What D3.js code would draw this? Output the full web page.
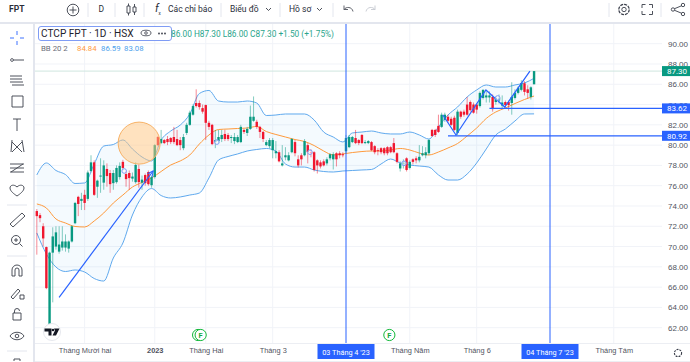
<!DOCTYPE html>
<html>
<head>
<meta charset="utf-8">
<script src="https://cdn.jsdelivr.net/npm/d3@7"></script>
<style>
  html, body { margin: 0; padding: 0; background: #fff; }
  svg { display: block; font-family: Roboto, "Liberation Sans", sans-serif; }
</style>
</head>
<body>
<svg width="690" height="362"></svg>
<script>
const opens = [
  73.5,73.1,72.0,69.95,61.3,69.4,70.0,69.5,69.9,69.9,
  69.8,70.5,72.3,74.9,74.5,75.1,74.7,77.45,78.3,75.9,
  76.9,76.3,77.65,77.25,76.25,76.35,76.85,78.35,77.15,77.25,
  76.7,76.35,77.65,76.3,77.05,77.35,76.05,76.85,80.8,80.2,
  80.5,80.6,80.7,80.8,80.6,80.5,79.7,81.2,82.0,83.0,
  84.15,84.15,83.65,83.95,82.2,82.0,80.3,80.4,80.6,81.1,
  81.0,80.7,80.4,80.3,80.3,81.5,81.2,81.6,82.4,82.3,
  81.8,81.3,80.0,79.9,79.5,79.2,79.3,78.0,78.8,78.5,
  79.3,80.3,78.6,79.0,79.0,80.0,79.3,79.3,78.5,78.3,
  78.4,78.2,78.7,78.6,79.2,79.2,79.1,79.4,79.8,80.3,
  80.7,80.5,81.0,80.2,80.2,80.3,79.9,79.5,79.7,79.7,
  79.8,79.8,80.2,79.2,77.7,78.1,78.7,77.75,78.6,78.7,
  78.5,79.0,79.0,79.2,81.5,81.5,81.9,81.8,82.5,82.8,
  82.6,82.7,81.2,83.3,83.3,84.0,84.25,84.0,84.0,83.85,
  84.65,84.7,84.7,84.75,84.25,84.4,83.9,84.25,84.25,84.15,
  84.65,85.15,85.45,86.1,85.5,84.75,86.0];
const closes = [
  73.0,72.8,70.8,65.9,69.4,71.0,71.4,70.2,70.5,70.5,
  70.5,72.0,74.3,74.2,74.7,74.3,77.3,78.3,75.1,76.5,
  77.0,78.0,76.95,76.15,77.25,77.75,77.95,77.75,76.65,76.75,
  76.9,78.05,76.35,76.6,76.25,76.15,76.85,80.0,80.0,80.6,
  80.2,80.3,80.3,80.3,80.0,80.0,80.8,82.0,83.2,83.85,
  83.85,83.75,83.3,82.2,81.8,80.1,80.5,80.8,81.0,80.6,
  80.6,80.8,80.8,80.8,81.8,81.3,81.6,82.8,82.8,81.8,
  81.3,80.6,80.3,80.5,80.5,79.4,78.4,78.2,79.0,79.0,
  80.6,79.2,78.0,78.6,80.4,79.3,79.2,77.55,78.0,77.9,
  78.0,78.6,79.1,79.1,78.6,79.0,79.0,80.7,80.8,80.8,
  80.2,80.2,80.2,80.3,80.4,79.5,79.3,79.4,79.3,79.2,
  79.2,79.3,79.3,78.35,78.2,78.3,77.55,78.35,78.35,78.5,
  78.85,79.2,79.3,80.5,80.9,81.0,81.3,83.0,83.0,82.4,
  82.0,81.5,83.3,82.8,83.0,83.0,83.45,83.2,83.5,85.15,
  85.45,84.9,84.9,83.55,84.65,84.6,84.2,83.95,83.95,84.75,
  85.15,85.65,86.1,85.25,85.15,85.7,87.3];
const highs = [
  73.7,73.3,72.3,70.0,69.5,71.9,72.0,72.0,72.0,71.2,
  70.6,72.1,74.4,75.0,75.3,75.6,77.5,79.0,78.5,76.6,
  78.7,78.5,78.2,77.55,77.55,78.0,78.3,78.55,77.4,77.5,
  77.3,78.3,78.1,77.0,77.2,77.5,77.0,80.1,80.9,81.5,
  80.6,80.9,80.8,81.8,81.5,80.8,81.1,82.2,83.4,84.0,
  85.5,84.4,84.0,84.0,82.4,82.1,81.5,81.5,81.5,81.5,
  81.2,81.0,81.2,81.0,82.0,81.6,81.8,83.9,84.8,82.5,
  81.9,81.4,80.5,80.7,80.7,80.4,79.5,80.0,79.8,79.3,
  80.7,80.5,79.0,79.2,80.6,80.2,79.6,79.4,78.6,78.5,
  78.6,78.8,79.2,79.3,79.3,79.4,79.3,81.0,81.0,80.9,
  81.5,80.6,81.1,80.5,80.5,80.4,80.0,79.7,79.8,79.8,
  79.9,79.9,80.7,79.3,78.4,78.6,78.8,78.5,78.7,78.9,
  80.0,79.9,79.8,80.6,81.6,81.6,83.0,83.2,83.2,83.0,
  82.8,82.9,83.5,83.4,83.5,84.75,84.4,84.2,84.1,85.3,
  85.5,85.3,85.3,85.0,84.8,85.0,84.9,84.4,84.4,86.2,
  85.5,85.8,86.4,86.3,85.9,85.8,87.3];
const lows = [
  69.2,72.4,70.0,65.8,61.3,64.5,69.7,69.3,69.6,69.5,
  69.4,70.4,72.2,73.0,73.6,73.6,74.5,77.3,75.0,74.8,
  75.3,75.6,75.9,75.3,75.6,76.2,76.6,77.5,75.9,75.6,
  76.4,76.2,75.8,75.6,76.0,76.0,75.8,76.7,79.9,80.1,
  80.1,80.0,80.1,80.1,79.9,79.5,79.5,81.0,81.9,82.9,
  83.7,83.5,83.1,80.5,81.5,80.0,79.7,80.2,80.3,80.4,
  80.4,80.2,80.1,80.2,80.2,81.1,80.9,81.5,82.3,81.6,
  80.7,80.3,79.9,79.7,78.7,78.7,78.3,77.9,78.5,78.4,
  79.2,78.9,77.8,78.0,78.9,78.2,78.8,77.4,77.2,77.7,
  77.9,78.0,78.5,77.6,77.9,78.7,78.8,79.2,79.7,80.2,
  80.1,80.0,80.1,80.1,80.1,79.4,79.1,79.0,79.1,79.0,
  79.0,79.2,79.2,78.2,77.4,77.7,77.4,77.6,78.1,78.2,
  78.3,78.9,78.7,79.0,80.8,80.8,81.2,81.7,82.3,82.2,
  81.9,81.4,81.0,82.6,82.8,82.9,83.3,83.1,83.1,83.7,
  84.5,84.2,84.2,83.3,84.0,84.1,83.6,83.6,83.4,83.0,
  84.5,85.0,85.3,84.9,84.6,84.5,86.0];

// bollinger bands read every third bar
const bandBars = d3.range(0, 157, 3);
const bbUpper = [
  77.06,78.24,77.50,77.10,76.22,76.27,78.14,79.91,80.06,80.51,
  79.62,78.83,78.44,80.51,81.39,81.98,83.07,85.09,85.39,84.35,
  84.25,84.25,84.35,84.15,82.92,82.97,83.07,83.07,83.07,82.48,
  81.29,80.80,80.31,81.20,81.29,81.39,81.20,81.10,81.10,81.29,
  81.00,80.60,81.79,82.97,83.76,84.75,85.44,85.93,85.73,85.73,
  85.93,86.13,86.59];
const bbMiddle = [
  74.20,73.80,72.72,72.32,71.98,71.93,72.52,73.31,74.29,75.08,
  75.87,76.32,76.76,77.40,78.04,78.44,79.03,80.11,81.00,81.54,
  81.59,81.64,81.69,81.84,81.34,81.05,80.80,80.55,80.36,79.96,
  79.42,79.03,79.13,79.27,79.37,79.42,79.42,79.52,79.67,79.52,
  79.22,79.03,79.32,79.72,80.16,80.90,81.69,82.63,83.27,83.66,
  84.10,84.50,84.84];
const bbLower = [
  71.34,69.27,67.98,67.54,67.69,67.49,66.85,66.60,68.87,70.35,
  73.11,74.89,75.72,75.03,74.79,74.89,75.08,75.28,76.76,78.53,
  78.88,79.13,79.42,79.57,79.67,79.42,78.14,77.84,77.84,77.55,
  77.40,77.35,77.45,77.50,77.55,77.60,78.14,78.63,78.24,78.04,
  77.94,77.84,77.06,76.56,76.56,77.15,78.24,79.62,81.00,81.59,
  82.38,83.07,83.08];

const priceTicks = d3.range(62, 92, 2);
const monthBars = [15, 37, 53, 74, 117, 138, 181];
const monthLabels = ["Tháng Mười hai", "2023", "Tháng Hai", "Tháng 3", "Tháng Năm", "Tháng 6", "Tháng Tám"];
const crossBars = [97, 161];
const crossLabels = ["03 Tháng 4 '23", "04 Tháng 7 '23"];

const levelPrices = [83.62, 80.92];
const levelStartBars = [142, 129];
const lastPrice = 87.3;

const trendBars = [7, 36.5];
const trendPrices = [65.0, 77.45];
const zigzagBars = [127.4, 131.5, 140.9, 146.8, 154.7];
const zigzagPrices = [82.97, 81.0, 85.44, 83.76, 87.3];
const markerBars = [27.4, 56.5, 85.7, 115.2, 144.6];
const markerPrices = [77.45, 80.3, 79.3, 78.2, 84.65];
const eventBars = [51.4, 110.6];
const eventShadowBar = 50.6;

const green = "#089981";
const red = "#f0172f";
const blue = "#2962ff";
const bandBlue = "#5fa9ee";
const orange = "#ff9a3c";
const textColor = "#50535e";
const gridColor = "#f1f3f8";

const svg = d3.select("svg");
const plot = { left: 35, right: 662, top: 24, bottom: 343 };

const xScale = d3.scaleLinear().domain([97, 161]).range([346, 550]);
const yScale = d3.scaleLinear().domain([62, 90]).range([327.7, 43.7]);

const grid = svg.append("g");
grid.selectAll("line.h").data(priceTicks).enter().append("line")
  .attr("class", "h")
  .attr("x1", plot.left).attr("x2", plot.right)
  .attr("y1", (d) => yScale(d)).attr("y2", (d) => yScale(d))
  .attr("stroke", gridColor);
grid.selectAll("line.v").data(monthBars).enter().append("line")
  .attr("class", "v")
  .attr("x1", (d) => xScale(d)).attr("x2", (d) => xScale(d))
  .attr("y1", plot.top).attr("y2", plot.bottom)
  .attr("stroke", gridColor);

// last price line
svg.append("line")
  .attr("x1", plot.left).attr("x2", plot.right)
  .attr("y1", yScale(lastPrice)).attr("y2", yScale(lastPrice))
  .attr("stroke", "#cfe6df");

const area = d3.area()
  .x((d) => xScale(d))
  .y0((d, i) => yScale(bbLower[i]))
  .y1((d, i) => yScale(bbUpper[i]))
  .curve(d3.curveMonotoneX);
svg.append("path").attr("d", area(bandBars)).attr("fill", "#2196f3").attr("opacity", 0.05);

const bandLine = (values) => d3.line()
  .x((d) => xScale(d))
  .y((d, i) => yScale(values[i]))
  .curve(d3.curveMonotoneX)(bandBars);
[[bbUpper, bandBlue], [bbLower, bandBlue], [bbMiddle, orange]].forEach(([values, color]) => {
  svg.append("path").attr("d", bandLine(values))
    .attr("fill", "none").attr("stroke", color).attr("stroke-width", 1);
});

// candles
const bars = d3.range(opens.length);
const candleColor = (i) => (closes[i] >= opens[i] ? green : red);
const candles = svg.append("g");
candles.selectAll("line").data(bars).enter().append("line")
  .attr("x1", (i) => xScale(i)).attr("x2", (i) => xScale(i))
  .attr("y1", (i) => yScale(highs[i])).attr("y2", (i) => yScale(lows[i]))
  .attr("stroke", candleColor).attr("stroke-opacity", 0.5);
candles.selectAll("rect").data(bars).enter().append("rect")
  .attr("x", (i) => xScale(i) - 1.2)
  .attr("width", 2.4)
  .attr("y", (i) => yScale(Math.max(opens[i], closes[i])))
  .attr("height", (i) => Math.max(1, Math.abs(yScale(opens[i]) - yScale(closes[i]))))
  .attr("fill", candleColor);

// drawings
svg.append("circle")
  .attr("cx", xScale(32.1)).attr("cy", yScale(80.2))
  .attr("r", yScale(78) - yScale(80.07))
  .attr("fill", "#ffc680").attr("fill-opacity", 0.5)
  .attr("stroke", "#f7b267").attr("stroke-width", 1);

svg.append("defs").append("marker")
  .attr("id", "arrow").attr("viewBox", "0 0 10 10").attr("refX", 9).attr("refY", 5)
  .attr("markerWidth", 7).attr("markerHeight", 7).attr("orient", "auto")
  .attr("markerUnits", "userSpaceOnUse")
  .append("path").attr("d", "M1 1L9 5L1 9").attr("fill", "none").attr("stroke", blue).attr("stroke-width", 1.4);

const drawLine = d3.line().x((d) => xScale(d[0])).y((d) => yScale(d[1]));
svg.append("path").attr("d", drawLine(d3.zip(trendBars, trendPrices)))
  .attr("fill", "none").attr("stroke", blue).attr("stroke-width", 1.2)
  .attr("marker-end", "url(#arrow)");
svg.append("path").attr("d", drawLine(d3.zip(zigzagBars, zigzagPrices)))
  .attr("fill", "none").attr("stroke", blue).attr("stroke-width", 1.2);

svg.selectAll("circle.mark").data(markerBars).enter().append("circle")
  .attr("class", "mark")
  .attr("cx", (d) => xScale(d)).attr("cy", (d, i) => yScale(markerPrices[i]))
  .attr("r", 2.3).attr("fill", "#fff").attr("fill-opacity", 0.6)
  .attr("stroke", "#7f9cf5").attr("stroke-width", 1);

levelPrices.forEach((p, i) => {
  svg.append("line")
    .attr("x1", xScale(levelStartBars[i])).attr("x2", plot.right)
    .attr("y1", yScale(p)).attr("y2", yScale(p))
    .attr("stroke", blue).attr("stroke-width", 1.2);
});

crossBars.forEach((b) => {
  svg.append("line")
    .attr("x1", xScale(b)).attr("x2", xScale(b))
    .attr("y1", plot.top).attr("y2", plot.bottom + 1)
    .attr("stroke", blue).attr("stroke-width", 1);
});

// earnings events
svg.append("circle").attr("cx", xScale(eventShadowBar)).attr("cy", 335).attr("r", 5.6)
  .attr("fill", "#fff").attr("stroke", "#12b83a").attr("stroke-width", 1);
const events = svg.selectAll("g.event").data(eventBars).enter().append("g")
  .attr("class", "event").attr("transform", (d) => `translate(${xScale(d)},335)`);
events.append("circle").attr("r", 5.6).attr("fill", "#fff").attr("stroke", "#12b83a").attr("stroke-width", 1);
events.append("text").attr("text-anchor", "middle").attr("y", 2.7).attr("font-size", 7.5)
  .attr("font-weight", 700).attr("fill", "#12a83a").text("F");

// tv logo
svg.append("circle").attr("cx", 52).attr("cy", 332).attr("r", 8.5).attr("fill", "#fff").attr("stroke", "#e6e8ee");
svg.append("path").attr("d", "M44.5 328.5h7v7h-3v-4h-4zM54 328.5h5.5l-3.5 7h-3.5l2.5-5z").attr("fill", "#131722");
svg.append("circle").attr("cx", 53).attr("cy", 330).attr("r", 1.3).attr("fill", "#131722");

// axes
svg.append("rect").attr("x", plot.right).attr("y", plot.top).attr("width", 690 - plot.right).attr("height", 338).attr("fill", "#fff");
svg.append("rect").attr("x", 0).attr("y", plot.bottom).attr("width", 690).attr("height", 19).attr("fill", "#fff");
svg.append("line").attr("x1", plot.left).attr("x2", 690).attr("y1", plot.bottom + 0.5).attr("y2", plot.bottom + 0.5).attr("stroke", "#eceef3");
svg.append("line").attr("x1", 0).attr("x2", 690).attr("y1", 361.5).attr("y2", 361.5).attr("stroke", "#eceef3");

const yAxis = d3.axisRight(yScale).tickValues(priceTicks).tickSize(0).tickPadding(6)
  .tickFormat(d3.format(".2f"));
const yAxisG = svg.append("g").attr("transform", `translate(${plot.right},0)`).call(yAxis);
yAxisG.select(".domain").remove();
yAxisG.selectAll("text").attr("fill", textColor).attr("font-size", 8).attr("font-family", "inherit");

const xAxis = d3.axisBottom(xScale).tickValues(monthBars).tickSize(0).tickPadding(5)
  .tickFormat((d, i) => monthLabels[i]);
const xAxisG = svg.append("g").attr("transform", `translate(0,${plot.bottom})`).call(xAxis);
xAxisG.select(".domain").remove();
xAxisG.selectAll("text").attr("fill", textColor).attr("font-size", 7.4).attr("font-family", "inherit")
  .attr("font-weight", (d, i) => (monthLabels[i] === "2023" ? 700 : 400));

// price and time tags
const priceTag = (p, color) => {
  svg.append("rect").attr("x", plot.right).attr("y", yScale(p) - 5).attr("width", 28).attr("height", 10).attr("fill", color);
  svg.append("text").attr("x", 687).attr("y", yScale(p) + 2.8).attr("text-anchor", "end")
    .attr("font-size", 8).attr("fill", "#fff").text(p.toFixed(2));
};
priceTag(lastPrice, green);
levelPrices.forEach((p) => priceTag(p, blue));

crossBars.forEach((b, i) => {
  svg.append("rect").attr("x", xScale(b) - 28.5).attr("y", 344).attr("width", 57).attr("height", 15).attr("fill", blue);
  svg.append("text").attr("x", xScale(b)).attr("y", 354.5).attr("text-anchor", "middle")
    .attr("font-size", 7.3).attr("fill", "#fff").text(crossLabels[i]);
});

// toolbars
svg.append("rect").attr("x", 0).attr("y", 0).attr("width", 690).attr("height", 22).attr("fill", "#fff");
svg.append("rect").attr("x", 0).attr("y", 22).attr("width", 690).attr("height", 2).attr("fill", "#e3e6ee");
svg.append("rect").attr("x", 0).attr("y", 24).attr("width", 33).attr("height", 338).attr("fill", "#fff");
svg.append("rect").attr("x", 33).attr("y", 24).attr("width", 2).attr("height", 338).attr("fill", "#e3e6ee");

const topText = (x, label, weight, size) => svg.append("text").attr("x", x).attr("y", 12)
  .attr("font-size", size || 8.5).attr("font-weight", weight || 400).attr("fill", "#2a2e39").text(label);
topText(9, "FPT", 700, 8.5);
topText(98.5, "D");
topText(168, "Các chỉ báo");
topText(230, "Biểu đồ");
topText(289, "Hồ sơ");

[88, 115, 144, 221, 280, 333, 609, 661].forEach((x) => {
  svg.append("line").attr("x1", x).attr("x2", x).attr("y1", 3).attr("y2", 17).attr("stroke", "#e3e6ee");
});

const icon = (d, stroke) => svg.append("path").attr("d", d).attr("fill", "none")
  .attr("stroke", stroke || "#3a3e4a").attr("stroke-width", 0.9);
svg.append("circle").attr("cx", 73).attr("cy", 10).attr("r", 5.8).attr("fill", "none").attr("stroke", "#3a3e4a").attr("stroke-width", 0.9);
icon("M69.5 10H76.5M73 6.5V13.5");
icon("M127 6h3v7h-3zM128.5 3.5v2.5M128.5 13v2.5M133 7h3v5h-3zM134.5 4v3M134.5 12v3");
topText(155, "f", 400, 11).attr("font-style", "italic");
svg.append("text").attr("x", 158.5).attr("y", 15).attr("font-size", 4.5).attr("fill", "#2a2e39").text("x");
icon("M266 8l2.5 2.5L271 8M317 8l2.5 2.5L322 8");
icon("M344 5.5v4h4M344 9.5c2-3 8-3 9 2", "#50535e");
icon("M375 5.5v4h-4M375 9.5c-2-3-8-3-9 2", "#c5c8d0");

svg.append("circle").attr("cx", 624).attr("cy", 9.5).attr("r", 5.2).attr("fill", "none").attr("stroke", "#3a3e4a").attr("stroke-dasharray", "3 1").attr("stroke-width", 1.2);
svg.append("circle").attr("cx", 624).attr("cy", 9.5).attr("r", 2.2).attr("fill", "none").attr("stroke", "#3a3e4a").attr("stroke-width", 0.9);
icon("M642 8V4.5h3.5M649 4.5h3.5V8M652.5 11v3.5H649M645.5 14.5H642V11");
svg.selectAll("circle.share").data([[673, 9.5], [683, 5], [683, 14]]).enter().append("circle")
  .attr("class", "share")
  .attr("cx", (d) => d[0]).attr("cy", (d) => d[1]).attr("r", 1.7).attr("fill", "none").attr("stroke", "#3a3e4a").attr("stroke-width", 0.9);
icon("M674.5 8.7L681.5 5.8M674.5 10.3L681.5 13.2");

// left tools
icon("M17 31v4M17 41v4M10 38h4M20 38h4", "#2962ff");
icon("M12 60h12");
svg.append("circle").attr("cx", 12).attr("cy", 60).attr("r", 1.4).attr("fill", "#fff").attr("stroke", "#3a3e4a").attr("stroke-width", 0.8);
icon("M10 76h12M10 79h12M10 82h13M12 85h12");
icon("M12 96h11v11H12zM13 119h8M17 119v12");
icon("M12 142l10 10M22 142l-10 10M12 140l-1 12M22 140l2 12");
icon("M10 164h14M10 168h14M10 172h14M11 172l12-8");
icon("M17 196c-3-2-7-5-7-8 0-3 4-4 7-1 3-3 7-2 7 1 0 3-4 6-7 8z");
icon("M10 224l12-11 3 3-12 11z");
svg.append("circle").attr("cx", 16).attr("cy", 240).attr("r", 4.5).attr("fill", "none").attr("stroke", "#3a3e4a").attr("stroke-width", 0.9);
icon("M19.5 243.5l3 3M14 240h4M16 238v4");
icon("M12 276v-6a5 5 0 0 1 10 0v6h-3v-6a2 2 0 0 0-4 0v6z");
icon("M11 297l7-8 2 2-7 8zM20 295h4v4h-4z");
icon("M13 313h8v7h-8zM14.5 313v-2a2.5 2.5 0 0 1 5 0");
icon("M10 336c3-5 11-5 14 0c-3 5-11 5-14 0z");
svg.append("circle").attr("cx", 17).attr("cy", 336).attr("r", 1.8).attr("fill", "none").attr("stroke", "#3a3e4a").attr("stroke-width", 0.9);
[205, 256, 351].forEach((y) => {
  svg.append("line").attr("x1", 7).attr("x2", 27).attr("y1", y).attr("y2", y).attr("stroke", "#e3e6ee");
});
icon("M14 361v-2h6v2");

// legend
svg.append("rect").attr("x", 38.5).attr("y", 26.5).attr("width", 133).attr("height", 14).attr("rx", 2.5)
  .attr("fill", "#fff").attr("stroke", "#7f9cf5");
svg.append("text").attr("x", 41).attr("y", 37).attr("font-size", 10.1).attr("fill", "#1e222d").text("CTCP FPT · 1D · HSX");
svg.append("ellipse").attr("cx", 146).attr("cy", 33).attr("rx", 5).attr("ry", 2.8).attr("fill", "none").attr("stroke", "#3a3e4a").attr("stroke-width", 0.8);
svg.append("circle").attr("cx", 146).attr("cy", 33).attr("r", 1.3).attr("fill", "none").attr("stroke", "#3a3e4a").attr("stroke-width", 0.8);
svg.selectAll("circle.dot").data([159, 162, 165]).enter().append("circle")
  .attr("class", "dot")
  .attr("cx", (d) => d).attr("cy", 33.5).attr("r", 0.9).attr("fill", "#3a3e4a");

svg.append("text").attr("x", 171).attr("y", 37).attr("font-size", 8.3).attr("fill", "#2aa58c")
  .text("86.00 H87.30 L86.00 C87.30 +1.50 (+1.75%)");

const legendRow = [["BB 20 2", 41, "#6a6d78"], ["84.84", 77, orange], ["86.59", 101, "#4ea1ec"], ["83.08", 124, "#4ea1ec"]];
legendRow.forEach(([label, x, color]) => {
  svg.append("text").attr("x", x).attr("y", 51).attr("font-size", 7.8).attr("fill", color).text(label);
});

// settings gear under the price scale
svg.append("circle").attr("cx", 678).attr("cy", 353).attr("r", 3.6).attr("fill", "none").attr("stroke", "#3a3e4a").attr("stroke-dasharray", "2 1").attr("stroke-width", 1.1);
</script>
</body>
</html>
